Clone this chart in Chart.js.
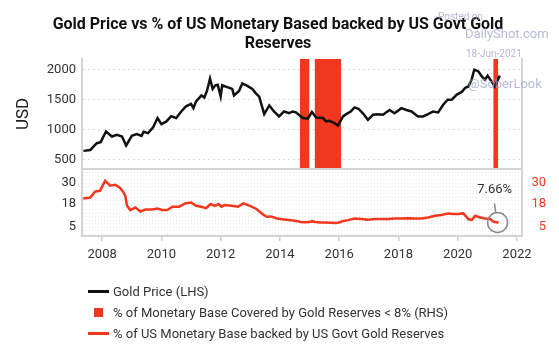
<!DOCTYPE html>
<html lang="en">
<head>
<meta charset="UTF-8">
<title>Gold Price vs % of US Monetary Base</title>
<style>
    * { margin: 0; padding: 0; box-sizing: border-box; }
    body { background: #fff; font-family: Roboto, sans-serif; overflow: hidden; }
    .wrap { position: relative; width: 559px; height: 346px; }
    /* legend under the chart, one entry per row */
    .legend { position: absolute; left: 88px; top: 281px; font-size: 13px; color: #333; }
    .legend-item { display: flex; align-items: center; height: 21px; white-space: nowrap; }
    .swatch-line { width: 21px; height: 3px; margin-right: 4px; }
    .swatch-box { width: 9px; height: 9px; margin: 0 10px 0 6px; }
</style>
<script src="https://cdn.jsdelivr.net/npm/chart.js"></script>
</head>
<body>
<div class="wrap">
    <canvas id="goldChart" width="559" height="346"></canvas>
    <div class="legend">
        <div class="legend-item"><span class="swatch-line" style="background:#111"></span>Gold Price (LHS)</div>
        <div class="legend-item"><span class="swatch-box" style="background:#f2371f"></span>% of Monetary Base Covered by Gold Reserves &lt; 8% (RHS)</div>
        <div class="legend-item"><span class="swatch-line" style="background:#f2371f"></span>% of US Monetary Base backed by US Govt Gold Reserves</div>
    </div>
</div>
<script>
// gold price, USD (decimal years)
const goldYears = [2007.37, 2007.6, 2007.82, 2007.95, 2008.13, 2008.33, 2008.5, 2008.67, 2008.81, 2009.0,
    2009.17, 2009.33, 2009.4, 2009.55, 2009.72, 2009.87, 2010.0, 2010.17, 2010.33, 2010.5,
    2010.67, 2010.83, 2011.0, 2011.08, 2011.17, 2011.35, 2011.45, 2011.54, 2011.64, 2011.73,
    2011.82, 2011.9, 2012.0, 2012.05, 2012.22, 2012.39, 2012.45, 2012.62, 2012.73, 2012.9,
    2013.07, 2013.18, 2013.3, 2013.47, 2013.64, 2013.8, 2013.97, 2014.14, 2014.31, 2014.43,
    2014.54, 2014.77, 2014.94, 2015.08, 2015.22, 2015.45, 2015.56, 2015.67, 2015.84, 2015.96,
    2016.13, 2016.24, 2016.39, 2016.52, 2016.65, 2016.8, 2016.97, 2017.14, 2017.31, 2017.48,
    2017.59, 2017.7, 2017.87, 2018.1, 2018.27, 2018.44, 2018.66, 2018.83, 2019.0, 2019.17,
    2019.34, 2019.51, 2019.66, 2019.8, 2019.97, 2020.14, 2020.25, 2020.36, 2020.47, 2020.56,
    2020.7, 2020.81, 2020.92, 2021.01, 2021.14, 2021.25, 2021.42];
const goldPrice = [650, 665, 778, 795, 972, 888, 917, 888, 738, 900,
    930, 900, 967, 945, 1040, 1195, 1095, 1140, 1225, 1195,
    1305, 1390, 1430, 1360, 1470, 1572, 1535, 1650, 1850, 1680,
    1740, 1750, 1555, 1740, 1710, 1680, 1570, 1645, 1770, 1730,
    1680, 1610, 1550, 1262, 1405, 1305, 1222, 1305, 1278, 1305,
    1290, 1195, 1185, 1295, 1205, 1195, 1140, 1150, 1110, 1072,
    1222, 1260, 1305, 1372, 1350, 1275, 1165, 1250, 1260, 1250,
    1290, 1330, 1275, 1360, 1330, 1305, 1222, 1222, 1260, 1305,
    1290, 1417, 1500, 1500, 1585, 1630, 1695, 1720, 1833, 2000,
    1970, 1890, 1833, 1900, 1805, 1720, 1900];

// % of US monetary base backed by gold reserves
const pctYears = [2007.36, 2007.6, 2007.76, 2007.93, 2008.1, 2008.27, 2008.44, 2008.59, 2008.7, 2008.78,
    2008.84, 2008.95, 2009.12, 2009.29, 2009.46, 2009.69, 2009.86, 2010.03, 2010.2, 2010.37,
    2010.6, 2010.82, 2011.0, 2011.17, 2011.34, 2011.51, 2011.66, 2011.8, 2011.93, 2012.02,
    2012.14, 2012.36, 2012.59, 2012.76, 2012.99, 2013.21, 2013.38, 2013.55, 2013.7, 2013.9,
    2014.14, 2014.37, 2014.6, 2014.7, 2014.85, 2015.0, 2015.08, 2015.2, 2015.35, 2015.5,
    2015.73, 2015.9, 2016.05, 2016.1, 2016.3, 2016.52, 2016.75, 2016.97, 2017.2, 2017.42,
    2017.65, 2017.87, 2018.1, 2018.32, 2018.55, 2018.78, 2019.0, 2019.23, 2019.45, 2019.68,
    2019.85, 2020.02, 2020.19, 2020.36, 2020.47, 2020.59, 2020.76, 2020.93, 2021.1, 2021.19,
    2021.25, 2021.38];
const pctBacked = [21.3, 21.8, 25.1, 25.7, 31.3, 28.5, 29.0, 27.5, 25.3, 22.8,
    17.1, 14.7, 16.2, 13.9, 15.0, 15.0, 15.6, 14.7, 14.7, 16.6,
    16.6, 18.6, 19.0, 17.1, 16.6, 15.8, 18.1, 17.1, 18.1, 16.6,
    17.5, 17.1, 16.6, 18.5, 17.1, 15.3, 12.8, 10.9, 11.1, 9.9,
    9.4, 8.9, 8.3, 7.9, 7.8, 7.9, 8.4, 7.9, 7.7, 7.6,
    7.5, 7.3, 7.9, 8.4, 9.0, 9.9, 9.6, 9.2, 9.6, 9.6,
    9.6, 9.9, 9.9, 10.1, 9.9, 9.9, 10.5, 11.5, 11.9, 12.8,
    12.4, 12.4, 12.8, 9.6, 9.0, 11.5, 10.5, 9.9, 9.6, 8.3,
    7.9, 7.66];

// periods where coverage dropped below 8%
const lowStart = [2014.67, 2015.17, 2021.2];
const lowEnd = [2015.0, 2016.07, 2021.37];

// axis ticks
const yearTicks = [2008, 2010, 2012, 2014, 2016, 2018, 2020, 2022];
const goldTicks = [500, 750, 1000, 1250, 1500, 1750, 2000];
const goldLabels = [500, 1000, 1500, 2000];
const pctLabels = [5, 18, 30];
const pctGrid = [1, 3, 5, 7, 9, 11, 13, 15, 18, 20, 22, 24, 26, 28, 30, 32, 34, 36];

const RED = '#f2371f';
const AXIS = '#d4d4d4';
const GRID = '#dcdcdc';

const goldPoints = goldYears.map((x, i) => ({ x: x, y: goldPrice[i] }));
const pctPoints = pctYears.map((x, i) => ({ x: x, y: pctBacked[i] }));
const lowPoints = [];
lowStart.forEach((s, i) => {
    lowPoints.push({ x: s, y: 1 }, { x: lowEnd[i], y: 1 }, { x: lowEnd[i], y: null });
});

function setTicks(values) {
    return scale => { scale.ticks = values.map(v => ({ value: v })); };
}

// frame line between the two panels, watermark and end-point callout
const extras = {
    id: 'extras',
    afterDatasetsDraw(chart) {
        const ctx = chart.ctx;
        const area = chart.chartArea;
        const lower = chart.scales.yPct;
        ctx.save();
        ctx.strokeStyle = AXIS;
        ctx.lineWidth = 2;
        ctx.beginPath();
        ctx.moveTo(area.left, lower.top);
        ctx.lineTo(area.right, lower.top);
        ctx.stroke();

        const meta = chart.getDatasetMeta(1);
        const last = meta.data[meta.data.length - 1];
        ctx.strokeStyle = '#8a8a8a';
        ctx.lineWidth = 1.5;
        ctx.beginPath();
        ctx.arc(last.x - 1, last.y, 10, 0, Math.PI * 2);
        ctx.stroke();
        ctx.beginPath();
        ctx.moveTo(last.x - 4, last.y - 19);
        ctx.lineTo(last.x - 3, last.y - 10);
        ctx.stroke();
        ctx.fillStyle = '#333';
        ctx.font = '13px Roboto';
        ctx.textAlign = 'center';
        ctx.textBaseline = 'middle';
        ctx.fillText(pctBacked[pctBacked.length - 1].toFixed(2) + '%', last.x - 4, last.y - 33);
        ctx.restore();
    },
    afterDraw(chart) {
        const ctx = chart.ctx;
        ctx.save();
        ctx.fillStyle = 'rgba(160, 160, 205, 0.75)';
        ctx.textAlign = 'left';
        ctx.textBaseline = 'middle';
        ctx.font = '10px Roboto';
        ctx.fillText('Posted on', 438, 17);
        ctx.font = '13px Roboto';
        ctx.fillText('DailyShot.com', 465, 35);
        ctx.font = '10px Roboto';
        ctx.fillText('18-Jun-2021', 466, 54);
        ctx.font = '13px Roboto';
        ctx.fillText('@SoberLook', 468, 85);
        ctx.restore();
    }
};

new Chart(document.getElementById('goldChart'), {
    data: {
        datasets: [{
            type: 'line',
            label: 'Gold Price (LHS)',
            data: goldPoints,
            yAxisID: 'yGold',
            borderColor: '#111',
            borderWidth: 2.5,
            pointRadius: 0,
            tension: 0
        }, {
            type: 'line',
            label: '% of US Monetary Base backed by US Govt Gold Reserves',
            data: pctPoints,
            yAxisID: 'yPct',
            borderColor: RED,
            borderWidth: 2.5,
            pointRadius: 0,
            tension: 0
        }, {
            type: 'line',
            label: '% of Monetary Base Covered by Gold Reserves < 8% (RHS)',
            data: lowPoints,
            yAxisID: 'yFlag',
            borderWidth: 0,
            borderColor: RED,
            backgroundColor: RED,
            pointRadius: 0,
            spanGaps: false,
            fill: 'origin'
        }]
    },
    options: {
        responsive: false,
        animation: false,
        font: { family: 'Roboto' },
        layout: { padding: { left: 10, right: 13, top: 0, bottom: 80 } },
        plugins: {
            legend: { display: false },
            tooltip: { enabled: false },
            title: {
                display: true,
                text: ['Gold Price vs % of US Monetary Based backed by US Govt Gold', 'Reserves'],
                color: '#111',
                font: { family: 'Roboto', size: 16, weight: 'bold', lineHeight: 1.15 },
                padding: { top: 16, bottom: 6 }
            }
        },
        scales: {
            x: {
                type: 'linear',
                min: 2007.32,
                max: 2022.17,
                afterBuildTicks: setTicks(yearTicks),
                afterFit: s => { s.height = 30; },
                ticks: { color: '#333', font: { size: 13 }, padding: 6, maxRotation: 0, autoSkip: false, callback: v => String(v) },
                grid: { drawOnChartArea: false, color: '#cfcfcf', tickLength: 5, lineWidth: 1.5 },
                border: { color: AXIS, width: 2 }
            },
            // left stack is laid out bottom-up: lower panel first
            yPct: {
                type: 'linear',
                position: 'left',
                stack: 'left',
                stackWeight: 67,
                min: 0,
                max: 38,
                afterBuildTicks: setTicks(pctGrid),
                afterFit: s => { s.width = 72; },
                ticks: { color: '#333', font: { size: 13 }, padding: 6, autoSkip: false, callback: v => pctLabels.includes(v) ? String(v) : '' },
                grid: { color: '#e6e6e6', drawTicks: false, lineWidth: 1 },
                border: { color: AXIS, width: 2, dash: [1, 2] }
            },
            yGold: {
                type: 'linear',
                position: 'left',
                stack: 'left',
                stackWeight: 110,
                min: 350,
                max: 2180,
                afterBuildTicks: setTicks(goldTicks),
                afterFit: s => { s.width = 72; },
                ticks: { color: '#333', font: { size: 13 }, padding: 6, callback: v => goldLabels.includes(v) ? String(v) : '' },
                grid: { color: GRID, drawTicks: false, lineWidth: 1 },
                border: { color: AXIS, width: 2, dash: [2, 3] },
                title: { display: true, text: 'USD', color: '#222', font: { size: 17 }, padding: { top: 4, bottom: 0 } }
            },
            yFlag: {
                type: 'linear',
                position: 'right',
                stack: 'right',
                stackWeight: 110,
                min: 0,
                max: 1,
                afterFit: s => { s.width = 24; },
                ticks: { display: false },
                grid: { display: false },
                border: { color: AXIS, width: 2 }
            },
            yPctR: {
                type: 'linear',
                position: 'right',
                stack: 'right',
                stackWeight: 67,
                min: 0,
                max: 38,
                afterBuildTicks: setTicks(pctLabels),
                afterFit: s => { s.width = 24; },
                ticks: { color: RED, font: { size: 13 }, crossAlign: 'far', callback: v => String(v) },
                grid: { display: false },
                border: { color: AXIS, width: 2 }
            }
        }
    },
    plugins: [extras]
});
</script>
</body>
</html>
